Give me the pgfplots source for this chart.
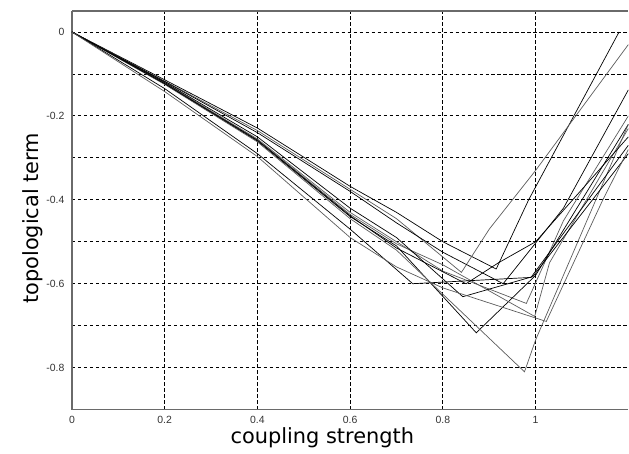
\documentclass[border=0pt]{standalone}
\usepackage{pgfplots}
\pgfplotsset{compat=1.18}
\usepackage{fontspec}
\setmainfont{Liberation Sans}
\newfontfamily\labfont{DejaVu Sans}
\definecolor{axgray}{HTML}{6A6A6A}
\definecolor{lgray}{HTML}{5C5C5C}
\begin{document}
\begin{tikzpicture}
\begin{axis}[
  scale only axis,
  width=557bp, height=399bp,
  xmin=0, xmax=1.2, ymin=-0.9, ymax=0.05,
  axis lines*=left,
  axis line style={-, axgray, line width=1.3bp},
  xtick={0,0.2,0.4,0.6,0.8,1},
  ytick={-0.8,-0.6,-0.4,-0.2},
  minor ytick={-0.7,-0.5,-0.3,-0.1},
  extra y ticks={0},
  extra y tick style={grid style={solid, axgray, line width=1.3bp}},
  grid=both,
  major grid style={black, line width=0.8bp, dash pattern=on 3.5bp off 2.5bp},
  minor grid style={black, line width=0.8bp, dash pattern=on 3.5bp off 2.5bp},
  major tick length=0pt, minor tick length=0pt,
  tick label style={font=\fontsize{10.5}{12}\selectfont, text=black!80},
  /pgf/number format/assume math mode=true,
  /pgf/number format/fixed,
  /pgf/number format/precision=1,
  xticklabel style={yshift=-3bp},
  yticklabel style={xshift=-4bp},
  xlabel={\labfont\fontsize{21}{24}\selectfont coupling strength},
  ylabel={\labfont\fontsize{21}{24}\selectfont topological term},
  xlabel style={at={(axis description cs:0.45,0)}, anchor=north, yshift=-15bp},
  ylabel style={at={(axis description cs:0,0.48)}, anchor=south, yshift=26bp},
  every axis plot/.append style={line width=0.7bp},
]
% upper curves
\addplot[black] coordinates {(0,0) (0.2,-0.114) (0.4,-0.229) (0.6,-0.368) (0.7,-0.43) (0.8,-0.50) (0.915,-0.565) (0.985,-0.40) (1.18,0.0)};
\addplot[lgray] coordinates {(0,0) (0.2,-0.117) (0.4,-0.235) (0.6,-0.375) (0.7,-0.445) (0.84,-0.573) (0.90,-0.47) (1.0,-0.33) (1.2,-0.03)};
\addplot[black] coordinates {(0,0) (0.2,-0.118) (0.4,-0.24) (0.6,-0.38) (0.7,-0.455) (0.8,-0.525) (0.93,-0.60) (1.06,-0.42) (1.2,-0.138)};
% bundle
\addplot[lgray] coordinates {(0,0) (0.2,-0.122) (0.4,-0.255) (0.6,-0.43) (0.7,-0.50) (0.8,-0.57) (0.98,-0.647) (1.06,-0.45) (1.2,-0.20)};
\addplot[black] coordinates {(0,0) (0.2,-0.124) (0.4,-0.26) (0.6,-0.44) (0.7,-0.51) (0.872,-0.717) (0.944,-0.64) (1.0,-0.58) (1.2,-0.22)};
\addplot[lgray] coordinates {(0,0) (0.2,-0.121) (0.4,-0.257) (0.6,-0.435) (0.7,-0.505) (0.8,-0.555) (0.998,-0.678) (1.03,-0.55) (1.2,-0.23)};
\addplot[lgray] coordinates {(0,0) (0.2,-0.125) (0.4,-0.262) (0.6,-0.445) (0.7,-0.52) (0.976,-0.81) (1.0,-0.734) (1.2,-0.22)};
\addplot[black] coordinates {(0,0) (0.2,-0.12) (0.4,-0.25) (0.6,-0.42) (0.7,-0.49) (0.843,-0.631) (0.994,-0.583) (1.2,-0.29)};
\addplot[black] coordinates {(0,0) (0.2,-0.123) (0.4,-0.258) (0.6,-0.438) (0.7,-0.515) (0.85,-0.60) (0.92,-0.55) (1.0,-0.50) (1.2,-0.25)};
% lower curves
\addplot[black] coordinates {(0,0) (0.2,-0.135) (0.4,-0.29) (0.6,-0.47) (0.735,-0.60) (0.99,-0.585) (1.2,-0.27)};
\addplot[lgray] coordinates {(0,0) (0.2,-0.142) (0.4,-0.297) (0.6,-0.49) (0.7,-0.56) (0.8,-0.61) (1.023,-0.69) (1.145,-0.40) (1.2,-0.28)};
\draw[axgray, line width=1.3bp] (rel axis cs:0,1) -- (rel axis cs:1,1);
\end{axis}
\path (current axis.south west) ++(-72bp,-44bp) rectangle ++(629bp,454bp);
\end{tikzpicture}
\end{document}
